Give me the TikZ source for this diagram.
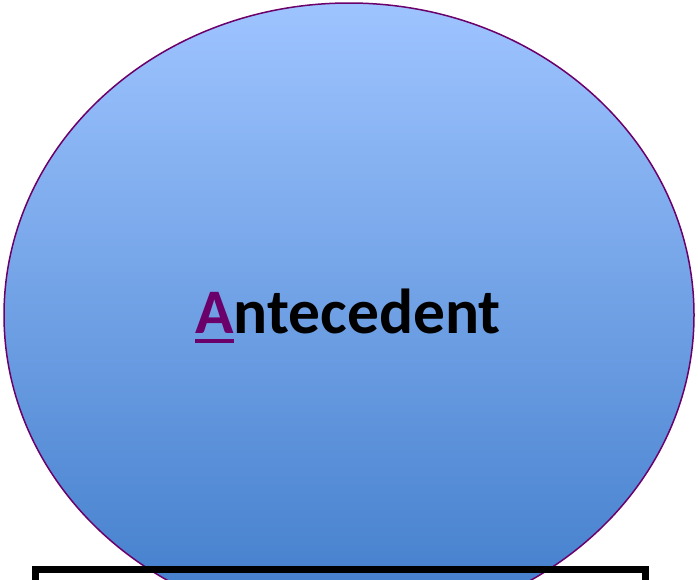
\documentclass[tikz,border=0pt]{standalone}
\usepackage{fontspec}
\setmainfont{Carlito}
\usetikzlibrary{shapes.geometric}
\definecolor{rimpurple}{RGB}{107,0,107}
\definecolor{skytop}{RGB}{158,196,255}
\definecolor{skybottom}{RGB}{64,124,202}
\newcommand{\keyletter}[1]{{\color{rimpurple}\setbox0\hbox{#1}\rlap{\rule[-9.5pt]{\wd0}{4pt}}\box0}}
\begin{document}
\begin{tikzpicture}[x=1pt,y=-1pt]
    \useasboundingbox (0,0) rectangle (698,579);
    \path (349,315) node [ellipse,draw=rimpurple,line width=1.5pt,top color=skytop,bottom color=skybottom,
      minimum width=690pt,minimum height=624pt,inner sep=0pt](bubble){};
    \path (348,316) node [font=\fontsize{63.5}{76}\bfseries\selectfont](term){\keyletter{A}ntecedent};
    \draw[line width=7pt] (35.5,620) |- (645.5,569.5) -- (645.5,620);
  \end{tikzpicture}
\end{document}
